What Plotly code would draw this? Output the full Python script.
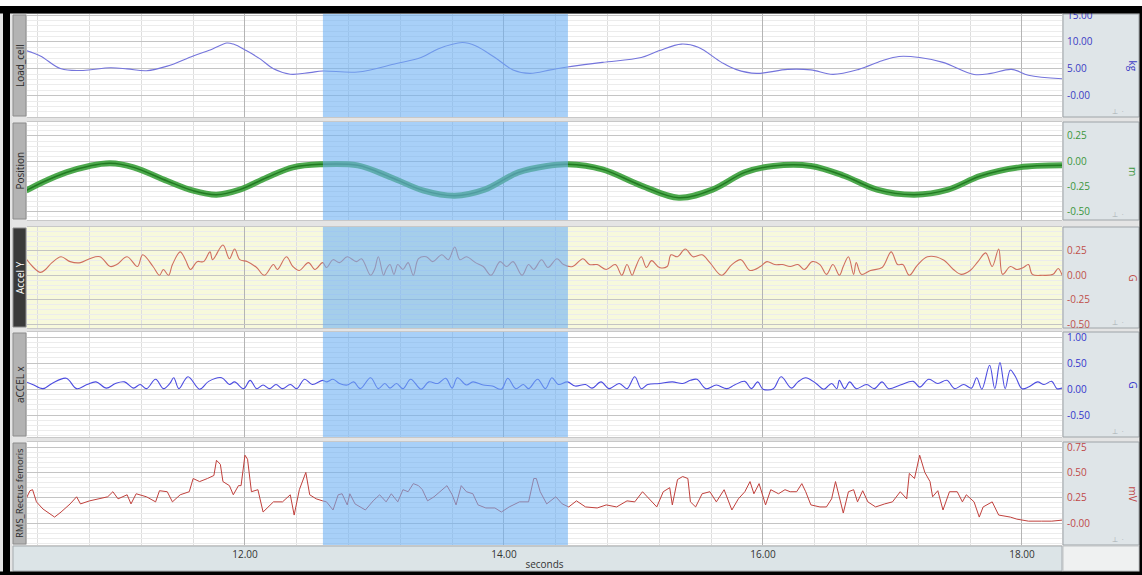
import plotly.graph_objects as go
from plotly.subplots import make_subplots

# ---------------- data ----------------
channel_names = ["Load_cell", "Position", "Accel Y", "aCCEL x", "RMS_Rectus femoris"]
channel_units = ["kg", "m", "G", "G", "mV"]

load_t = [10.31, 10.42, 10.58, 10.75, 10.96, 11.09, 11.24, 11.40, 11.60, 11.75, 11.86, 11.91,
          12.01, 12.12, 12.22, 12.35, 12.50, 12.60, 12.87, 13.17, 13.36, 13.49, 13.68, 13.78,
          13.93, 14.07, 14.20, 14.36, 14.49, 14.76, 15.06, 15.20, 15.37, 15.50, 15.68, 15.79,
          15.95, 16.19, 16.37, 16.54, 16.74, 16.92, 17.05, 17.21, 17.39, 17.63, 17.76, 17.92,
          18.05, 18.31]
load_kg = [8.4, 7.4, 5.0, 4.7, 5.2, 5.0, 4.65, 5.5, 7.4, 8.7, 9.8, 9.6,
           8.4, 6.8, 5.0, 4.0, 4.3, 4.6, 4.4, 6.0, 7.1, 8.7, 9.9, 9.3,
           7.1, 4.8, 4.15, 4.8, 5.35, 6.2, 7.1, 8.4, 9.6, 9.0, 6.2, 4.9,
           4.15, 4.9, 4.8, 3.96, 4.9, 6.5, 7.3, 7.1, 6.2, 3.96, 4.15, 4.9,
           3.8, 3.15]

pos_t = [10.31, 10.45, 10.62, 10.80, 10.96, 11.14, 11.40, 11.60, 11.78, 11.96, 12.17, 12.37,
         12.58, 12.87, 13.13, 13.38, 13.62, 13.85, 14.11, 14.33, 14.49, 14.76, 15.06, 15.35,
         15.61, 15.86, 16.08, 16.37, 16.63, 16.88, 17.17, 17.43, 17.68, 17.98, 18.31]
pos_m = [-0.29, -0.20, -0.11, -0.046, -0.02, -0.06, -0.195, -0.29, -0.33, -0.28, -0.16, -0.06,
         -0.03, -0.04, -0.16, -0.29, -0.34, -0.28, -0.11, -0.046, -0.03, -0.08, -0.24, -0.36,
         -0.28, -0.11, -0.046, -0.046, -0.145, -0.28, -0.33, -0.28, -0.145, -0.06, -0.04]

accy_t = [10.31, 10.36, 10.42, 10.46, 10.51, 10.58, 10.65, 10.73, 10.80, 10.88, 10.96, 11.01,
          11.09, 11.17, 11.21, 11.29, 11.34, 11.37, 11.41, 11.44, 11.50, 11.54, 11.58, 11.63,
          11.68, 11.73, 11.75, 11.83, 11.88, 11.92, 11.96, 12.02, 12.09, 12.15, 12.22, 12.25,
          12.32, 12.37, 12.42, 12.49, 12.54, 12.60, 12.63, 12.68, 12.73, 12.79, 12.86, 12.90,
          12.97, 13.00, 13.03, 13.07, 13.09, 13.12, 13.15, 13.18, 13.22, 13.26, 13.30, 13.34,
          13.40, 13.45, 13.52, 13.57, 13.62, 13.66, 13.71, 13.78, 13.84, 13.90, 13.97, 14.02,
          14.07, 14.14, 14.19, 14.23, 14.29, 14.34, 14.41, 14.46, 14.53, 14.61, 14.66, 14.72,
          14.79, 14.86, 14.91, 14.95, 14.99, 15.01, 15.06, 15.10, 15.14, 15.20, 15.26, 15.29,
          15.34, 15.40, 15.46, 15.53, 15.59, 15.68, 15.76, 15.83, 15.90, 15.98, 16.03, 16.09,
          16.15, 16.21, 16.27, 16.32, 16.38, 16.44, 16.49, 16.54, 16.59, 16.62, 16.66, 16.70,
          16.72, 16.76, 16.83, 16.92, 16.99, 17.04, 17.08, 17.13, 17.19, 17.27, 17.39, 17.47,
          17.53, 17.60, 17.66, 17.72, 17.77, 17.82, 17.85, 17.91, 17.96, 18.01, 18.05, 18.08,
          18.16, 18.24, 18.28, 18.31]
accy_g = [0.17, 0.09, 0.03, 0.06, 0.13, 0.19, 0.14, 0.13, 0.17, 0.19, 0.09, 0.11,
          0.19, 0.09, 0.21, 0.09, 0.0, 0.06, 0.0, 0.11, 0.24, 0.16, 0.06, 0.14,
          0.14, 0.24, 0.16, 0.31, 0.17, 0.27, 0.16, 0.14, 0.08, 0.0, 0.11, 0.06,
          0.19, 0.09, 0.05, 0.13, 0.06, 0.13, 0.08, 0.16, 0.13, 0.19, 0.14, 0.17,
          0.0, 0.06, 0.19, 0.0, 0.06, 0.11, 0.01, 0.11, 0.06, 0.13, 0.0, 0.17,
          0.19, 0.14, 0.21, 0.16, 0.29, 0.16, 0.19, 0.13, 0.09, 0.0, 0.14, 0.09,
          0.14, 0.0, 0.11, 0.06, 0.16, 0.08, 0.17, 0.11, 0.09, 0.17, 0.11, 0.11,
          0.06, 0.11, 0.0, 0.11, 0.0, 0.06, 0.19, 0.08, 0.15, 0.08, 0.09, 0.21,
          0.19, 0.27, 0.19, 0.21, 0.13, 0.0, 0.11, 0.16, 0.05, 0.09, 0.14, 0.11,
          0.11, 0.09, 0.11, 0.06, 0.14, 0.11, 0.01, 0.11, 0.0, 0.09, 0.19, 0.01,
          0.13, 0.01, 0.05, 0.08, 0.24, 0.11, 0.11, 0.0, 0.10, 0.19, 0.16, 0.06,
          0.01, 0.05, 0.14, 0.23, 0.09, 0.27, 0.01, 0.09, 0.06, 0.08, 0.11, 0.01,
          0.0, 0.01, 0.07, 0.0]

accx_t = [10.31, 10.36, 10.44, 10.51, 10.62, 10.70, 10.78, 10.85, 10.93, 11.00, 11.07, 11.14,
          11.19, 11.24, 11.31, 11.37, 11.42, 11.45, 11.49, 11.56, 11.65, 11.72, 11.82, 11.88,
          11.92, 11.99, 12.04, 12.09, 12.14, 12.19, 12.24, 12.29, 12.35, 12.40, 12.46, 12.52,
          12.60, 12.63, 12.68, 12.73, 12.79, 12.84, 12.89, 12.97, 13.03, 13.08, 13.12, 13.17,
          13.22, 13.28, 13.36, 13.42, 13.49, 13.55, 13.60, 13.64, 13.71, 13.76, 13.84, 13.91,
          13.98, 14.03, 14.09, 14.15, 14.19, 14.26, 14.32, 14.37, 14.42, 14.49, 14.55, 14.63,
          14.68, 14.75, 14.81, 14.89, 14.95, 15.01, 15.06, 15.11, 15.20, 15.30, 15.38, 15.44,
          15.49, 15.56, 15.64, 15.72, 15.78, 15.86, 15.91, 15.96, 16.00, 16.08, 16.14, 16.22,
          16.27, 16.33, 16.41, 16.47, 16.53, 16.57, 16.59, 16.63, 16.67, 16.72, 16.80, 16.86,
          16.92, 16.97, 17.06, 17.16, 17.21, 17.28, 17.35, 17.42, 17.48, 17.55, 17.61, 17.65,
          17.69, 17.75, 17.79, 17.83, 17.87, 17.91, 17.95, 18.00, 18.05, 18.12, 18.17, 18.23,
          18.27, 18.31]
accx_g = [0.14, 0.09, 0.01, 0.11, 0.21, 0.01, 0.09, 0.14, 0.02, 0.11, 0.14, 0.02,
          0.09, 0.01, 0.19, 0.01, 0.11, 0.22, 0.01, 0.24, 0.0, 0.15, 0.22, 0.09,
          0.14, 0.01, 0.17, 0.01, 0.08, 0.01, 0.09, 0.01, 0.09, 0.01, 0.19, 0.09,
          0.17, 0.14, 0.19, 0.11, 0.08, 0.14, 0.01, 0.22, 0.01, 0.11, 0.02, 0.11,
          0.01, 0.19, 0.0, 0.14, 0.11, 0.21, 0.02, 0.22, 0.08, 0.14, 0.08, 0.06,
          0.0, 0.21, 0.01, 0.09, 0.01, 0.19, 0.01, 0.22, 0.09, 0.14, 0.06, 0.09,
          0.02, 0.14, 0.01, 0.11, 0.01, 0.24, 0.01, 0.09, 0.11, 0.14, 0.11, 0.17,
          0.19, 0.01, 0.08, 0.01, 0.08, 0.15, 0.01, 0.14, 0.0, 0.01, 0.24, 0.02,
          0.14, 0.22, 0.11, 0.0, 0.11, 0.01, 0.17, 0.01, 0.14, 0.01, 0.09, 0.01,
          0.14, 0.01, 0.08, 0.15, 0.04, 0.19, 0.11, 0.17, 0.01, 0.09, 0.02, 0.22,
          0.0, 0.46, 0.01, 0.51, 0.01, 0.37, 0.24, 0.01, 0.04, 0.14, 0.09, 0.15,
          0.01, 0.02]

rms_t = [10.31, 10.34, 10.36, 10.39, 10.44, 10.53, 10.58, 10.65, 10.70, 10.73, 10.80, 10.88,
         10.94, 10.98, 11.02, 11.09, 11.12, 11.16, 11.24, 11.31, 11.34, 11.40, 11.44, 11.50,
         11.57, 11.60, 11.65, 11.71, 11.76, 11.78, 11.81, 11.83, 11.88, 11.91, 11.95, 11.97,
         12.00, 12.02, 12.05, 12.10, 12.14, 12.22, 12.29, 12.35, 12.38, 12.42, 12.45, 12.47,
         12.50, 12.55, 12.60, 12.63, 12.68, 12.72, 12.75, 12.79, 12.81, 12.85, 12.93, 12.99,
         13.04, 13.09, 13.13, 13.18, 13.22, 13.26, 13.30, 13.34, 13.37, 13.41, 13.46, 13.52,
         13.56, 13.60, 13.63, 13.67, 13.71, 13.76, 13.80, 13.86, 13.93, 13.98, 14.04, 14.12,
         14.19, 14.23, 14.25, 14.28, 14.33, 14.40, 14.45, 14.50, 14.56, 14.63, 14.72, 14.79,
         14.87, 14.95, 15.01, 15.07, 15.14, 15.18, 15.23, 15.28, 15.30, 15.34, 15.38, 15.42,
         15.44, 15.48, 15.53, 15.59, 15.64, 15.70, 15.76, 15.81, 15.86, 15.90, 15.93, 15.97,
         16.02, 16.06, 16.12, 16.17, 16.21, 16.26, 16.30, 16.33, 16.37, 16.44, 16.49, 16.53,
         16.56, 16.59, 16.62, 16.66, 16.70, 16.73, 16.77, 16.81, 16.87, 16.94, 17.00, 17.06,
         17.11, 17.13, 17.17, 17.21, 17.25, 17.29, 17.31, 17.35, 17.39, 17.44, 17.50, 17.54,
         17.57, 17.63, 17.67, 17.70, 17.77, 17.82, 17.91, 17.96, 18.05, 18.15, 18.23, 18.31]
rms_mv = [0.24, 0.32, 0.33, 0.21, 0.14, 0.06, 0.11, 0.19, 0.26, 0.19, 0.22, 0.24,
          0.26, 0.31, 0.24, 0.28, 0.19, 0.29, 0.26, 0.21, 0.32, 0.31, 0.21, 0.28,
          0.31, 0.44, 0.41, 0.44, 0.47, 0.62, 0.58, 0.41, 0.37, 0.28, 0.37, 0.37,
          0.67, 0.63, 0.31, 0.33, 0.11, 0.21, 0.21, 0.28, 0.08, 0.33, 0.44, 0.50,
          0.28, 0.24, 0.22, 0.21, 0.13, 0.28, 0.29, 0.18, 0.29, 0.19, 0.13, 0.22,
          0.28, 0.21, 0.29, 0.21, 0.33, 0.31, 0.39, 0.37, 0.33, 0.22, 0.26, 0.33,
          0.37, 0.28, 0.18, 0.37, 0.31, 0.29, 0.18, 0.15, 0.15, 0.11, 0.16, 0.21,
          0.21, 0.44, 0.44, 0.31, 0.19, 0.26, 0.19, 0.16, 0.22, 0.16, 0.15, 0.18,
          0.16, 0.22, 0.21, 0.31, 0.21, 0.16, 0.31, 0.35, 0.18, 0.43, 0.46, 0.44,
          0.21, 0.16, 0.29, 0.31, 0.21, 0.33, 0.13, 0.24, 0.31, 0.41, 0.29, 0.39,
          0.18, 0.33, 0.29, 0.33, 0.31, 0.31, 0.39, 0.31, 0.18, 0.16, 0.16, 0.24,
          0.41, 0.24, 0.10, 0.31, 0.33, 0.21, 0.32, 0.21, 0.16, 0.19, 0.21, 0.31,
          0.24, 0.49, 0.44, 0.67, 0.50, 0.41, 0.26, 0.32, 0.13, 0.31, 0.31, 0.21,
          0.28, 0.21, 0.06, 0.16, 0.21, 0.08, 0.06, 0.04, 0.02, 0.02, 0.02, 0.03]

x_range = [10.317, 18.309]
selection = [12.602, 14.494]

y_ranges = [[-3.96, 15.2], [-0.58, 0.388], [-0.54, 0.495], [-0.92, 1.1], [-0.215, 0.80]]
y_tickvals = [[0, 5, 10, 15], [-0.5, -0.25, 0, 0.25], [-0.5, -0.25, 0, 0.25],
              [-0.5, 0, 0.5, 1.0], [0, 0.25, 0.5, 0.75]]
y_ticktext = [["-0.00", "5.00", "10.00", "15.00"], ["-0.50", "-0.25", "0.00", "0.25"],
              ["-0.50", "-0.25", "0.00", "0.25"], ["-0.50", "0.00", "0.50", "1.00"],
              ["-0.00", "0.25", "0.50", "0.75"]]
y_minor = [1.0, 0.05, 0.05, 0.1, 0.05]

# ---------------- styling / geometry ----------------
W, H = 1142, 575
L, R, T, B = 27, 80, 14, 30
PW, PH = W - L - R, H - T - B


def pxx(x):
    return (x - L) / PW


def pxy(y):
    return (H - B - y) / PH


panel_px = [(14, 117), (122, 220), (227, 328), (332, 437), (442, 545)]
tick_colors = ["#3b3bc4", "#3c963c", "#c0504a", "#3434cc", "#c04848"]
line_colors = ["#7474dc", "#2f9a2f", "#cf6f5f", "#4b4be0", "#c0403c"]
FONT = "Open Sans"

fig = make_subplots(rows=5, cols=1, shared_xaxes=True, vertical_spacing=0.01)

fig.add_trace(go.Scatter(x=load_t, y=load_kg, mode="lines", line=dict(color=line_colors[0], width=1.1, shape="spline")), row=1, col=1)
fig.add_trace(go.Scatter(x=pos_t, y=pos_m, mode="lines", line=dict(color="rgba(58,160,58,0.9)", width=6, shape="spline")), row=2, col=1)
fig.add_trace(go.Scatter(x=pos_t, y=pos_m, mode="lines", line=dict(color="#217a21", width=1.5, shape="spline")), row=2, col=1)
fig.add_trace(go.Scatter(x=accy_t, y=accy_g, mode="lines", line=dict(color=line_colors[2], width=1.1, shape="spline", smoothing=1.0)), row=3, col=1)
fig.add_trace(go.Scatter(x=accx_t, y=accx_g, mode="lines", line=dict(color=line_colors[3], width=1.1, shape="spline", smoothing=1.0)), row=4, col=1)
fig.add_trace(go.Scatter(x=rms_t, y=rms_mv, mode="lines", line=dict(color=line_colors[4], width=1.0)), row=5, col=1)

shapes = []
annotations = []

for i in range(5):
    r = i + 1
    top, bot = panel_px[i]
    ya = "yaxis" if r == 1 else f"yaxis{r}"
    xa = "xaxis" if r == 1 else f"xaxis{r}"
    fig.layout[ya].update(
        domain=[pxy(bot), pxy(top)], range=y_ranges[i], side="right", automargin=False,
        tickmode="array", tickvals=y_tickvals[i], ticktext=y_ticktext[i],
        tickfont=dict(family=FONT, size=10, color=tick_colors[i]),
        showgrid=True, gridcolor="#c4c4c4", gridwidth=1, zeroline=False,
        ticks="", ticklabelstandoff=4,
        minor=dict(tickmode="linear", tick0=0, dtick=y_minor[i], showgrid=True,
                   gridcolor="#ececec", gridwidth=1),
    )
    fig.layout[xa].update(
        range=x_range, tickmode="linear", tick0=0, dtick=2, tickformat=".2f", automargin=False,
        showgrid=True, gridcolor="#b4b4b4", gridwidth=1, zeroline=False,
        minor=dict(tickmode="linear", tick0=0, dtick=0.4, showgrid=True,
                   gridcolor="#dedede", gridwidth=1),
        showline=True, mirror=True, linecolor="#c8c8c8", linewidth=1,
        showticklabels=(r == 5),
        tickfont=dict(family=FONT, size=10, color="#333333"),
    )
    xr = "x" if r == 1 else f"x{r}"
    yr = "y" if r == 1 else f"y{r}"
    # selection highlight
    shapes.append(dict(type="rect", xref=xr, yref=f"{yr} domain", x0=selection[0], x1=selection[1],
                       y0=0, y1=1, fillcolor="rgba(110,177,243,0.6)", line=dict(width=0), layer="above"))
    # right axis panel
    shapes.append(dict(type="rect", xref="paper", yref="paper", x0=pxx(1063), x1=pxx(1139),
                       y0=pxy(bot), y1=pxy(top), fillcolor="#dfe5e8",
                       line=dict(color="#9ea4a8", width=1), layer="below"))
    # left label box
    dark = (i == 2)
    shapes.append(dict(type="rect", xref="paper", yref="paper", x0=pxx(13), x1=pxx(26),
                       y0=pxy(bot - 1), y1=pxy(top + 1), fillcolor="#3a3a3a" if dark else "#b3b3b3",
                       line=dict(color="#8c8c8c", width=1), layer="below"))
    annotations.append(dict(xref="paper", yref="paper", x=pxx(19.5), y=pxy((top + bot) / 2),
                            xanchor="center", yanchor="middle",
                            text=channel_names[i], showarrow=False, textangle=-90,
                            font=dict(family=FONT, size=9.5 if i == 4 else 10,
                                      color="#ffffff" if dark else "#2a2a2a")))
    annotations.append(dict(xref="paper", yref="paper", x=pxx(1133), y=pxy((top + bot) / 2),
                            xanchor="center", yanchor="middle",
                            text=channel_units[i], showarrow=False, textangle=90,
                            font=dict(family=FONT, size=10, color=tick_colors[i])))
    annotations.append(dict(xref="paper", yref="paper", x=pxx(1118), y=pxy(bot - 6),
                            xanchor="center", yanchor="middle",
                            text="⊥  ·", showarrow=False,
                            font=dict(family=FONT, size=7, color="#a8aeb2")))

# Accel Y yellow background
shapes.append(dict(type="rect", xref="x3 domain", yref="y3 domain", x0=0, x1=1, y0=0, y1=1,
                   fillcolor="#f7f9dc", line=dict(width=0), layer="below"))
# x-axis strip and lower-right blank area
shapes.append(dict(type="rect", xref="paper", yref="paper", x0=pxx(13), x1=pxx(1062),
                   y0=pxy(571), y1=pxy(546), fillcolor="#dce4e7",
                   line=dict(color="#a4aaae", width=1), layer="below"))
shapes.append(dict(type="rect", xref="paper", yref="paper", x0=pxx(1063), x1=pxx(1139),
                   y0=pxy(571), y1=pxy(546), fillcolor="#eff1f1",
                   line=dict(color="#c0c4c6", width=1), layer="below"))
# black frame
shapes.append(dict(type="rect", xref="paper", yref="paper", x0=pxx(0), x1=pxx(W),
                   y0=pxy(6), y1=pxy(0), fillcolor="#ffffff", line=dict(width=0), layer="above"))
shapes.append(dict(type="rect", xref="paper", yref="paper", x0=pxx(0), x1=pxx(W),
                   y0=pxy(13.5), y1=pxy(6), fillcolor="#000000", line=dict(width=0), layer="above"))
shapes.append(dict(type="rect", xref="paper", yref="paper", x0=pxx(3), x1=pxx(10),
                   y0=pxy(H), y1=pxy(6), fillcolor="#000000", line=dict(width=0), layer="above"))
shapes.append(dict(type="rect", xref="paper", yref="paper", x0=pxx(1139.5), x1=pxx(W),
                   y0=pxy(H), y1=pxy(6), fillcolor="#000000", line=dict(width=0), layer="above"))
shapes.append(dict(type="rect", xref="paper", yref="paper", x0=pxx(0), x1=pxx(W),
                   y0=pxy(H), y1=pxy(571.5), fillcolor="#000000", line=dict(width=0), layer="above"))

fig.update_layout(
    width=W, height=H,
    margin=dict(l=L, r=R, t=T, b=B, pad=0, autoexpand=False),
    paper_bgcolor="#e4e4e4", plot_bgcolor="#ffffff",
    showlegend=False,
    shapes=shapes, annotations=annotations,
    font=dict(family=FONT, size=10, color="#333333"),
)
fig.update_xaxes(ticklabelstandoff=0,
                 title=dict(text="seconds", font=dict(family=FONT, size=10, color="#333333"), standoff=0),
                 row=5, col=1)

fig.write_html("out.html", config={"displayModeBar": False},
               post_script="document.body.style.margin='0';document.body.style.overflow='hidden';")
